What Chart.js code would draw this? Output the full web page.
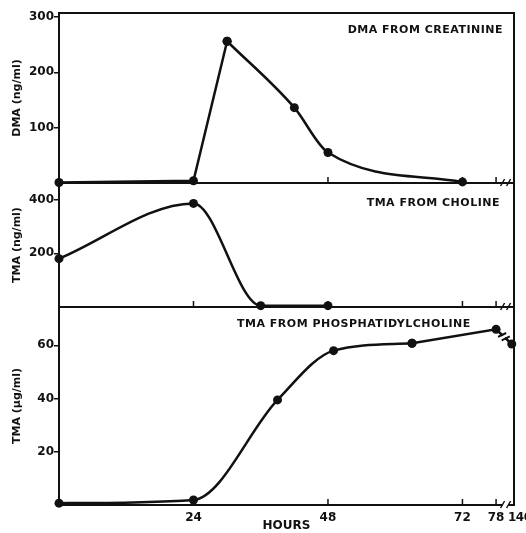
<!DOCTYPE html>
<html>
<head>
<meta charset="utf-8">
<script src="https://cdn.jsdelivr.net/npm/chart.js@4/dist/chart.umd.min.js"></script>
<style>
  body { margin: 0; background: #fff; }
  #wrap { position: relative; width: 526px; height: 533px; }
  #wrap canvas { position: absolute; left: 0; top: 0; }
</style>
</head>
<body>
<div id="wrap">
  <canvas id="dma" width="526" height="533"></canvas>
  <canvas id="choline" width="526" height="533"></canvas>
  <canvas id="pc" width="526" height="533"></canvas>
</div>
<script>
// values (hours after dose)
const dmaHours = [0, 24, 30, 42, 48, 72];
const dmaValues = [1, 4, 256, 136, 55, 2];
const cholineHours = [0, 24, 36, 48];
const cholineValues = [180, 386, 5, 5];
const pcHours = [0, 24, 39, 49, 63, 78, 140];
const pcValues = [0.7, 1.9, 39.5, 58, 60.8, 66, 60.5];

const hourTicks = [24, 48, 72, 78, 140];
const dmaTicks = [100, 200, 300];
const cholineTicks = [200, 400];
const pcTicks = [20, 40, 60];

const INK = '#111';
const FONT = 'DejaVu Sans';
const X_MAX = 81.2;

// the time axis is broken after 78 h, 140 h sits just past it
function axisPos(h) {
	return h > 78 ? 80.8 : h;
}
function tickPos(h) {
	return h > 78 ? X_MAX : h;
}

function points(hours, values, from, to) {
	return hours.slice(from, to).map((h, i) => ({ x: axisPos(h), y: values[from + i] }));
}

// frame, inward x ticks, axis break and panel caption
const panelFrame = {
	id: 'panelFrame',
	afterDraw(chart, args, opts) {
		const { ctx, chartArea: a } = chart;
		const x = chart.scales.x;
		ctx.save();
		ctx.strokeStyle = INK;
		ctx.lineWidth = 2;
		ctx.strokeRect(a.left, a.top, a.right - a.left, a.bottom - a.top);

		ctx.lineWidth = 1.5;
		hourTicks.forEach(h => {
			const px = x.getPixelForValue(tickPos(h));
			ctx.beginPath();
			ctx.moveTo(px, a.bottom);
			ctx.lineTo(px, a.bottom - 6);
			ctx.stroke();
		});

		// break on the axis
		const bx = x.getPixelForValue(79.7);
		ctx.fillStyle = '#fff';
		ctx.fillRect(bx - 3, a.bottom - 2, 6, 4);
		ctx.beginPath();
		ctx.moveTo(bx - 5, a.bottom + 3); ctx.lineTo(bx - 1, a.bottom - 4);
		ctx.moveTo(bx + 1, a.bottom + 3); ctx.lineTo(bx + 5, a.bottom - 4);
		ctx.stroke();

		// break on the data line
		if (opts.lineBreak) {
			const pts = chart.getDatasetMeta(chart.data.datasets.length - 1).data;
			const p1 = pts[pts.length - 2], p2 = pts[pts.length - 1];
			const len = Math.hypot(p2.x - p1.x, p2.y - p1.y);
			const dx = (p2.x - p1.x) / len, dy = (p2.y - p1.y) / len;
			const mx = (p1.x + p2.x) / 2, my = (p1.y + p2.y) / 2;
			// slash direction: line direction turned by about 70 degrees
			const c = Math.cos(-1.2), s = Math.sin(-1.2);
			const sx = dx * c - dy * s, sy = dx * s + dy * c;
			ctx.strokeStyle = '#fff';
			ctx.lineWidth = 4;
			ctx.beginPath();
			ctx.moveTo(mx - dx * 1.5, my - dy * 1.5); ctx.lineTo(mx + dx * 1.5, my + dy * 1.5);
			ctx.stroke();
			ctx.strokeStyle = INK;
			ctx.lineWidth = 2;
			ctx.beginPath();
			[-2.5, 2.5].forEach(o => {
				const cx = mx + dx * o, cy = my + dy * o;
				ctx.moveTo(cx - sx * 4.5, cy - sy * 4.5);
				ctx.lineTo(cx + sx * 4.5, cy + sy * 4.5);
			});
			ctx.stroke();
		}

		ctx.fillStyle = INK;
		ctx.font = 'bold 11px "' + FONT + '"';
		ctx.letterSpacing = '0.5px';
		ctx.textAlign = opts.align;
		ctx.textBaseline = 'alphabetic';
		const tx = opts.align === 'right' ? a.right - opts.dx : a.left + opts.dx;
		ctx.fillText(opts.text, tx, a.top + opts.dy);

		// last tick label sits past the break, set just right of the others
		if (opts.lastLabel) {
			const last = hourTicks[hourTicks.length - 1];
			ctx.font = 'bold 12px "' + FONT + '"';
			ctx.letterSpacing = '-0.5px';
			ctx.textAlign = 'left';
			ctx.textBaseline = 'top';
			ctx.fillText(String(last), x.getPixelForValue(tickPos(last)) - 6, a.bottom + 7);
		}
		ctx.restore();
	}
};

function xAxis(showLabels) {
	return {
		type: 'linear',
		min: 0,
		max: X_MAX,
		afterBuildTicks: s => { s.ticks = hourTicks.map(h => ({ value: tickPos(h) })); },
		afterFit: s => {
			s.height = showLabels ? 28 : 0;
			s.paddingLeft = 0;
			s.paddingRight = 0;
		},
		grid: { display: false, drawTicks: false },
		border: { display: false },
		ticks: {
			display: showLabels,
			autoSkip: false,
			maxRotation: 0,
			padding: 6,
			color: INK,
			font: { family: FONT, size: 12, weight: 'bold' },
			callback: (v, i) => hourTicks[i] > 78 ? '' : hourTicks[i]
		},
		title: {
			display: showLabels,
			text: 'HOURS',
			color: INK,
			padding: 0,
			font: { family: FONT, size: 12, weight: 'bold' }
		}
	};
}

function yAxis(max, ticks, title) {
	return {
		min: 0,
		max: max,
		afterBuildTicks: s => { s.ticks = ticks.map(v => ({ value: v })); },
		afterFit: s => { s.width = 59; },
		grid: { drawOnChartArea: false, tickLength: 5, color: INK, lineWidth: 1.5 },
		border: { color: INK, width: 2 },
		ticks: { padding: 0, color: INK, font: { family: FONT, size: 12, weight: 'bold' } },
		title: {
			display: true,
			text: title,
			color: INK,
			padding: { top: 11, bottom: 0 },
			font: { family: FONT, size: 11, weight: 'bold' }
		}
	};
}

// curved pieces use monotone splines, straight pieces are plain segments
function piece(data, curved) {
	return {
		data: data,
		borderColor: INK,
		borderWidth: 2.5,
		backgroundColor: INK,
		pointRadius: 4.5,
		pointBorderWidth: 0,
		pointBackgroundColor: INK,
		cubicInterpolationMode: curved ? 'monotone' : 'default',
		tension: 0,
		clip: false
	};
}

function panel(id, datasets, yScale, frame, pad, bottomLabels) {
	return new Chart(document.getElementById(id), {
		type: 'line',
		data: { datasets: datasets },
		options: {
			responsive: false,
			animation: false,
			devicePixelRatio: 1,
			layout: { padding: pad },
			plugins: {
				legend: { display: false },
				tooltip: { enabled: false },
				panelFrame: frame
			},
			scales: {
				x: xAxis(bottomLabels),
				y: yScale
			}
		},
		plugins: [panelFrame]
	});
}

panel('dma', [
		piece(points(dmaHours, dmaValues, 0, 3), false),
		piece(points(dmaHours, dmaValues, 2), true)
	], yAxis(307, dmaTicks, 'DMA (ng/ml)'),
	{ text: 'DMA FROM CREATININE', align: 'right', dx: 11, dy: 20 },
	{ top: 13, left: 0, right: 12, bottom: 350 }, false);

panel('choline', [
		piece(points(cholineHours, cholineValues, 0), true)
	], yAxis(462, cholineTicks, 'TMA (ng/ml)'),
	{ text: 'TMA FROM CHOLINE', align: 'right', dx: 14, dy: 23 },
	{ top: 183, left: 0, right: 12, bottom: 226 }, false);

panel('pc', [
		piece(points(pcHours, pcValues, 0, 5), true),
		piece(points(pcHours, pcValues, 4), false)
	], yAxis(74.4, pcTicks, 'TMA (\u03bcg/ml)'),
	{ text: 'TMA FROM PHOSPHATIDYLCHOLINE', align: 'left', dx: 178, dy: 20, lineBreak: true, lastLabel: true },
	{ top: 307, left: 0, right: 12, bottom: 0 }, true);
</script>
</body>
</html>
